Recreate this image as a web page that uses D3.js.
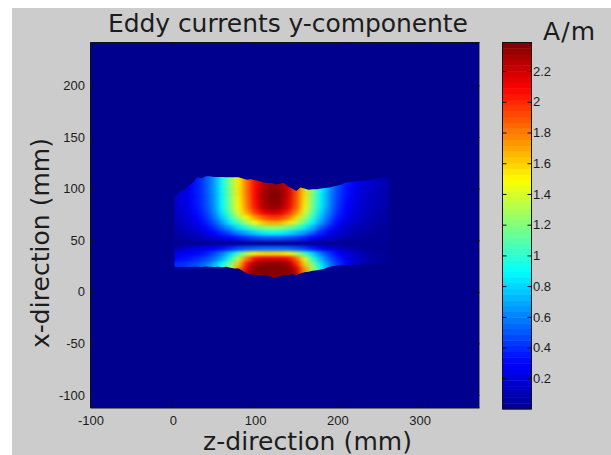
<!DOCTYPE html>
<html><head><meta charset="utf-8">
<script src="https://cdnjs.cloudflare.com/ajax/libs/d3/7.8.5/d3.min.js"></script>
<style>html,body{margin:0;padding:0;background:#fff}svg{display:block}</style>
</head><body><svg id="c" width="611" height="455"></svg>
<script>
const titleText="Eddy currents y-componente", xLabel="z-direction (mm)", yLabel="x-direction (mm)", unitLabel="A/m";
const xTicks=[-100,0,100,200,300];
const yTicks=[-100,-50,0,50,100,150,200];
const cbTicks=[0.2,0.4,0.6,0.8,1,1.2,1.4,1.6,1.8,2,2.2];
const jetColors=["#00008f","#0000ff","#00ffff","#ffff00","#ff0000","#800000"];
const zCols=[0,10,20,30,40,50,60,70,80,90,100,110,120,130,140,150,160,170,180,190,200,210,220,230,240,250,260];
const xRows=[112,107,102,97,92,87,82,77,72,67,62,57,52,47,42,37,32,27,22,17,12];
const grid=[
[.14,.2,.27,.36,.48,.66,.92,1.22,1.53,1.82,2.06,2.22,2.28,2.28,2.16,1.92,1.57,1.2,.88,.66,.48,.36,.27,.2,.16,.12,.09],
[.14,.2,.27,.36,.48,.66,.92,1.22,1.53,1.82,2.07,2.25,2.32,2.31,2.18,1.92,1.57,1.2,.88,.66,.48,.36,.27,.2,.16,.12,.09],
[.14,.2,.27,.36,.48,.66,.92,1.22,1.53,1.82,2.08,2.27,2.35,2.33,2.2,1.92,1.57,1.2,.88,.66,.47,.35,.26,.2,.16,.12,.09],
[.14,.2,.27,.36,.48,.66,.92,1.22,1.53,1.82,2.08,2.28,2.37,2.35,2.2,1.92,1.57,1.2,.88,.65,.46,.34,.25,.19,.15,.11,.08],
[.14,.19,.26,.35,.47,.65,.91,1.21,1.52,1.81,2.08,2.29,2.38,2.36,2.2,1.91,1.56,1.18,.87,.64,.45,.33,.24,.18,.14,.11,.08],
[.13,.19,.26,.35,.47,.64,.9,1.2,1.51,1.8,2.07,2.28,2.37,2.35,2.18,1.9,1.54,1.16,.86,.63,.44,.32,.23,.17,.13,.1,.07],
[.13,.18,.25,.34,.46,.63,.9,1.18,1.5,1.78,2.05,2.26,2.33,2.32,2.15,1.88,1.52,1.15,.85,.61,.42,.3,.22,.16,.12,.09,.06],
[.12,.17,.23,.32,.43,.6,.85,1.12,1.42,1.7,1.95,2.12,2.2,2.18,2.02,1.75,1.4,1.08,.8,.58,.39,.28,.2,.15,.11,.08,.06],
[.11,.15,.21,.29,.4,.55,.78,1.02,1.28,1.52,1.72,1.88,1.97,1.95,1.82,1.58,1.28,1,.74,.52,.36,.25,.18,.13,.1,.07,.05],
[.09,.13,.18,.26,.35,.48,.67,.88,1.08,1.28,1.48,1.63,1.7,1.68,1.56,1.36,1.12,.88,.66,.46,.31,.21,.15,.11,.08,.06,.04],
[.07,.1,.15,.21,.29,.4,.54,.68,.84,.99,1.12,1.22,1.25,1.23,1.16,1.04,.88,.7,.5,.36,.24,.16,.11,.08,.06,.04,.03],
[.05,.08,.11,.16,.22,.3,.39,.49,.6,.7,.8,.87,.9,.88,.83,.75,.64,.5,.37,.26,.18,.12,.08,.06,.04,.03,.02],
[.03,.05,.07,.1,.14,.18,.23,.29,.35,.41,.46,.49,.5,.49,.47,.43,.37,.29,.21,.15,.1,.07,.05,.03,.02,.02,.01],
[.01,.01,.01,.01,.01,.01,.01,.01,.01,.01,.01,.01,.01,.01,.01,.01,.01,.01,.01,.01,.01,.01,.01,.01,.01,.01,.01],
[.08,.12,.17,.21,.25,.28,.33,.39,.46,.5,.53,.55,.55,.55,.54,.5,.44,.35,.27,.2,.14,.09,.06,.04,.02,.02,.01],
[.24,.26,.28,.31,.36,.45,.6,.8,1.05,1.32,1.52,1.58,1.58,1.58,1.52,1.32,1.05,.8,.58,.42,.3,.21,.14,.09,.05,.03,.02],
[.3,.32,.35,.4,.46,.56,.72,.98,1.35,1.8,2.08,2.15,2.15,2.15,2.1,1.85,1.42,1,.72,.52,.37,.26,.17,.11,.06,.04,.02],
[.38,.4,.43,.48,.56,.7,.9,1.18,1.62,2.05,2.32,2.36,2.37,2.37,2.32,2.02,1.6,1.18,.84,.6,.43,.3,.2,.12,.07,.04,.02],
[.42,.44,.47,.52,.62,.78,1,1.33,1.8,2.2,2.37,2.38,2.38,2.38,2.37,2.2,1.75,1.28,.9,.64,.45,.32,.21,.13,.07,.04,.02],
[.42,.44,.47,.52,.62,.78,1,1.33,1.85,2.25,2.38,2.38,2.38,2.38,2.38,2.25,1.8,1.28,.9,.64,.45,.32,.21,.13,.07,.04,.02],
[.42,.44,.47,.52,.62,.78,1,1.33,1.85,2.25,2.38,2.38,2.38,2.38,2.38,2.25,1.8,1.28,.9,.64,.45,.32,.21,.13,.07,.04,.02]
];
const edgeZ=[2,5,10,15,20,25,30,35,40,45,50,55,60,65,70,75,80,85,90,95,100,105,110,115,120,125,130,135,140,145,150,155,160,165,170,175,180,185,190,195,200,205,210,215,220,225,230,235,240,245,250,255,260,263];
const edgeTop=[92.6,94.5,97.4,99,103,106.4,111,109.7,112,112,111.3,111.3,111.3,111,111,111,111,109.7,108.7,109,108,107.4,106,105.5,105.5,104,104.8,105.5,102,100,97.7,101,100,99,99.4,99.4,100,100.6,101,102,103,104,106,106.4,107,107.4,107.7,108,108.7,109.4,110,110.3,110.6,110.6];
const edgeBottom=[24.2,24.2,24.2,24.2,24,24.2,24.2,24,24.6,24.2,24,24.2,23.9,24.4,23.3,22.6,22.6,20.4,17.8,16.8,16.2,16.2,16.2,15.2,14.6,13.3,15.2,16.2,16.2,17.1,16.2,17.8,19,19.4,20.4,21,21.7,22.6,24.2,24.9,25.5,25.8,25.8,26.2,26.2,26.5,26.5,26.6,26.7,26.8,26.9,27,27,27];

const svg=d3.select("#c");
const ink="#1c1c1c";
svg.append("rect").attr("x",12).attr("y",8).attr("width",599).attr("height",447).attr("fill","#cccccc");

const box={l:90.5,r:479.5,t:42.5,b:408};
const x=d3.scaleLinear().domain([-100,372.7]).range([box.l,box.r]);
const y=d3.scaleLinear().domain([-112.6,241.6]).range([box.b,box.t]);
const vMax=2.386;
const jet=d3.scaleLinear().domain(jetColors.map((c,i)=>[0,.125,.375,.625,.875,1][i]*vMax)).range(jetColors).clamp(true);

const defs=svg.append("defs");
const f=defs.append("filter").attr("id","soft").attr("filterUnits","userSpaceOnUse")
 .attr("x",box.l).attr("y",box.t).attr("width",box.r-box.l).attr("height",box.b-box.t)
 .attr("color-interpolation-filters","sRGB");
f.append("feGaussianBlur").attr("stdDeviation","3.4 1.7");
const outline=edgeZ.map((z,i)=>[x(z),y(edgeTop[i])]).concat(edgeZ.map((z,i)=>[x(z),y(edgeBottom[i])]).reverse());
defs.append("clipPath").attr("id","shape").append("path").attr("d",d3.line()(outline)+"Z");

svg.append("rect").attr("x",box.l).attr("y",box.t).attr("width",box.r-box.l).attr("height",box.b-box.t).attr("fill",jet(0));
const cw=x(10)-x(0), ch=y(0)-y(5);
const cells=svg.append("g").attr("clip-path","url(#shape)").append("g").attr("filter","url(#soft)");
grid.forEach((row,j)=>row.forEach((v,i)=>{
  cells.append("rect").attr("x",x(zCols[i])-cw/2).attr("y",y(xRows[j])-ch/2)
   .attr("width",cw+.5).attr("height",ch+.5).attr("fill",jet(v));
}));

// frame and axes
svg.append("path").attr("d",`M${box.r},${box.t}V${box.b}`).attr("stroke","#777").attr("fill","none");
svg.append("path").attr("d",`M${box.l},${box.b}V${box.t}H${box.r}M${box.l},${box.b}H${box.r}`).attr("stroke","#111").attr("fill","none");
function style(g,size){
 g.select(".domain").remove();
 g.selectAll("line").attr("stroke","#111");
 g.selectAll("text").attr("font-family","'Liberation Sans',Arial,sans-serif").attr("font-size",size).attr("fill",ink);
}
svg.append("g").attr("transform",`translate(0,${box.b})`).call(d3.axisBottom(x).tickValues(xTicks).tickFormat(String).tickSize(-4).tickPadding(7.5)).call(g=>style(g,13));
svg.append("g").attr("transform",`translate(0,${box.t})`).call(d3.axisTop(x).tickValues(xTicks).tickFormat("").tickSize(-4)).call(g=>style(g,13));
svg.append("g").attr("transform",`translate(${box.l},0)`).call(d3.axisLeft(y).tickValues(yTicks).tickFormat(String).tickSize(-4).tickPadding(5.5)).call(g=>style(g,13));
svg.append("g").attr("transform",`translate(${box.r},0)`).call(d3.axisRight(y).tickValues(yTicks).tickFormat("").tickSize(-4)).call(g=>style(g,13));

// colour bar
const cb={l:502.5,r:531.5,t:42.5,b:409};
const cy=d3.scaleLinear().domain([0,vMax]).range([cb.b,cb.t]);
const levels=d3.range(64);
svg.append("g").selectAll("rect").data(levels).join("rect")
 .attr("x",cb.l).attr("width",cb.r-cb.l)
 .attr("y",d=>cy((d+1)/64*vMax)).attr("height",d=>cy(d/64*vMax)-cy((d+1)/64*vMax)+.4)
 .attr("fill",d=>jet((d+.5)/64*vMax));
svg.append("rect").attr("x",cb.l).attr("y",cb.t).attr("width",cb.r-cb.l).attr("height",cb.b-cb.t).attr("fill","none").attr("stroke","#111");
svg.append("g").attr("transform",`translate(${cb.r},0)`).call(d3.axisRight(cy).tickValues(cbTicks).tickFormat(String).tickSize(-4).tickPadding(1.5)).call(g=>style(g,13));
svg.append("g").attr("transform",`translate(${cb.l},0)`).call(d3.axisLeft(cy).tickValues(cbTicks).tickFormat("").tickSize(-4)).call(g=>style(g,13));

// texts
const big=(s,px,len)=>s.attr("font-family","'DejaVu Sans',sans-serif").attr("font-size",px).attr("fill",ink).attr("textLength",len).attr("lengthAdjust","spacing");
big(svg.append("text").attr("x",108).attr("y",32).text(titleText),25,360);
big(svg.append("text").attr("x",203).attr("y",449.5).text(xLabel),25,209);
big(svg.append("text").attr("transform","translate(49,348) rotate(-90)").text(yLabel),25,210);
big(svg.append("text").attr("x",543).attr("y",40).text(unitLabel),25,52);
</script></body></html>
